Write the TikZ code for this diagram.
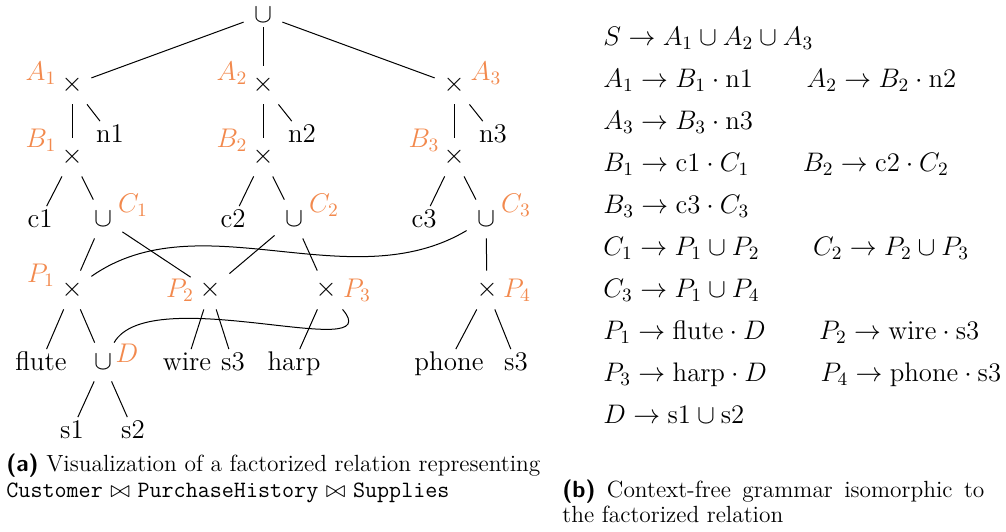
\RequirePackage{fix-cm}
\documentclass[tikz,border=0pt]{standalone}
\usepackage{tikz}
\usetikzlibrary{positioning}
\definecolor{nontermorange}{RGB}{242,137,77}

\begin{document}
\begin{tikzpicture}[
    x=0.5pt, y=-0.5pt,
    every node/.style={font=\fontsize{13.5}{16}\selectfont},
    op/.style={
        inner sep=0pt,
        minimum width=19pt,
        minimum height=19pt
    },
    leaf/.style={
        inner sep=1.5pt,
        text height=9pt,
        text depth=0.5pt
    },
    nonterm/.style={
        text=nontermorange,
        inner sep=0pt
    },
    link/.style={
        draw=black,
        line width=0.5pt
    },
    prod/.style={
        anchor=base west,
        inner sep=0pt,
        font=\fontsize{13.4}{16}\selectfont
    },
    capline/.style={
        anchor=base west,
        inner sep=0pt,
        font=\fontsize{11.7}{14}\selectfont
    }
]
\useasboundingbox (0,0) rectangle (1006,531);

% factorized relation
\node[op, minimum height=12pt] (root) at (263,15) {$\cup$};

\node[op] (A1) at (72,85) {$\times$};
\node[op] (A2) at (263,85) {$\times$};
\node[op] (A3) at (454,85) {$\times$};
\node[nonterm] (lA1) at (41,73) {$A_1$};
\node[nonterm] (lA2) at (232,73) {$A_2$};
\node[nonterm] (lA3) at (486,73) {$A_3$};

\node[leaf] (n1) at (110,134) {n1};
\node[leaf] (n2) at (302,134) {n2};
\node[leaf] (n3) at (493,134) {n3};

\node[op] (B1) at (72,157) {$\times$};
\node[op] (B2) at (263,157) {$\times$};
\node[op] (B3) at (454,157) {$\times$};
\node[nonterm] (lB1) at (41,140) {$B_1$};
\node[nonterm] (lB2) at (232,140) {$B_2$};
\node[nonterm] (lB3) at (424,140) {$B_3$};

\node[leaf] (c1) at (40,219) {c1};
\node[leaf] (c2) at (233,219) {c2};
\node[leaf] (c3) at (424,219) {c3};

\node[op] (C1) at (103,219) {$\cup$};
\node[op] (C2) at (294,219) {$\cup$};
\node[op] (C3) at (486,219) {$\cup$};
\node[nonterm] (lC1) at (133,205) {$C_1$};
\node[nonterm] (lC2) at (324,205) {$C_2$};
\node[nonterm] (lC3) at (516,205) {$C_3$};

\node[op] (P1) at (72,290) {$\times$};
\node[op] (P2) at (210,290) {$\times$};
\node[op] (P3) at (326,290) {$\times$};
\node[op] (P4) at (487,290) {$\times$};
\node[nonterm] (lP1) at (41,275) {$P_1$};
\node[nonterm] (lP2) at (180,290) {$P_2$};
\node[nonterm] (lP3) at (357,290) {$P_3$};
\node[nonterm] (lP4) at (517,290) {$P_4$};

\node[leaf] (flute) at (41,362) {flute};
\node[op] (D) at (103,362) {$\cup$};
\node[nonterm] (lD) at (127,353) {$D$};
\node[leaf] (wire) at (187,362) {wire};
\node[leaf] (s3a) at (233,362) {s3};
\node[leaf] (harp) at (294,362) {harp};
\node[leaf] (phone) at (449,362) {phone};
\node[leaf] (s3b) at (516,362) {s3};

\node[leaf] (s1) at (72,430) {s1};
\node[leaf] (s2) at (133,430) {s2};

\draw[link] (root) -- (A1);
\draw[link] (root) -- (A2);
\draw[link] (root) -- (A3);
\draw[link] (A1) -- (B1);
\draw[link] (A1) -- (n1);
\draw[link] (A2) -- (B2);
\draw[link] (A2) -- (n2);
\draw[link] (A3) -- (B3);
\draw[link] (A3) -- (n3);
\draw[link] (B1) -- (c1);
\draw[link] (B1) -- (C1);
\draw[link] (B2) -- (c2);
\draw[link] (B2) -- (C2);
\draw[link] (B3) -- (c3);
\draw[link] (B3) -- (C3);
\draw[link] (C1) -- (P1);
\draw[link] (C1) -- (P2);
\draw[link] (C2) -- (P2);
\draw[link] (C2) -- (P3);
\draw[link] (C3) -- (P4);
\draw[link] (P1) .. controls +(128,-90) and +(-136,81) .. (C3);
\draw[link] (P1) -- (flute);
\draw[link] (P1) -- (D);
\draw[link] (P2) -- (wire);
\draw[link] (P2) -- (s3a);
\draw[link] (P3) -- (harp);
\draw[link] (D) .. controls +(47,-82) and +(64,75) .. (P3);
\draw[link] (P4) -- (phone);
\draw[link] (P4) -- (s3b);
\draw[link] (D) -- (s1);
\draw[link] (D) -- (s2);

% grammar
\node[prod] (g1) at (603,45) {$S \rightarrow A_1 \cup A_2 \cup A_3$};
\node[prod] (g2) at (603,87) {$A_1 \rightarrow B_1 \cdot \mathrm{n1} \qquad A_2 \rightarrow B_2 \cdot \mathrm{n2}$};
\node[prod] (g3) at (603,129) {$A_3 \rightarrow B_3 \cdot \mathrm{n3}$};
\node[prod] (g4) at (603,171) {$B_1 \rightarrow \mathrm{c1} \cdot C_1 \qquad B_2 \rightarrow \mathrm{c2} \cdot C_2$};
\node[prod] (g5) at (603,213) {$B_3 \rightarrow \mathrm{c3} \cdot C_3$};
\node[prod] (g6) at (603,255) {$C_1 \rightarrow P_1 \cup P_2 \qquad C_2 \rightarrow P_2 \cup P_3$};
\node[prod] (g7) at (603,297) {$C_3 \rightarrow P_1 \cup P_4$};
\node[prod] (g8) at (603,339) {$P_1 \rightarrow \mathrm{flute} \cdot D \qquad P_2 \rightarrow \mathrm{wire} \cdot \mathrm{s3}$};
\node[prod] (g9) at (603,381) {$P_3 \rightarrow \mathrm{harp} \cdot D \qquad P_4 \rightarrow \mathrm{phone} \cdot \mathrm{s3}$};
\node[prod] (g10) at (603,423) {$D \rightarrow \mathrm{s1} \cup \mathrm{s2}$};

% captions
\node[capline] (capa1) at (6,471) {\makebox[267pt][s]{\textsf{\bfseries (a)} Visualization of a factorized relation representing}};
\node[capline] (capa2) at (6,497) {\texttt{Customer} $\bowtie$ \texttt{PurchaseHistory} $\bowtie$ \texttt{Supplies}};
\node[capline] (capb1) at (562,497) {\makebox[211pt][s]{\textsf{\bfseries (b)} Context-free grammar isomorphic to}};
\node[capline] (capb2) at (562,522) {the factorized relation};
\end{tikzpicture}
\end{document}
